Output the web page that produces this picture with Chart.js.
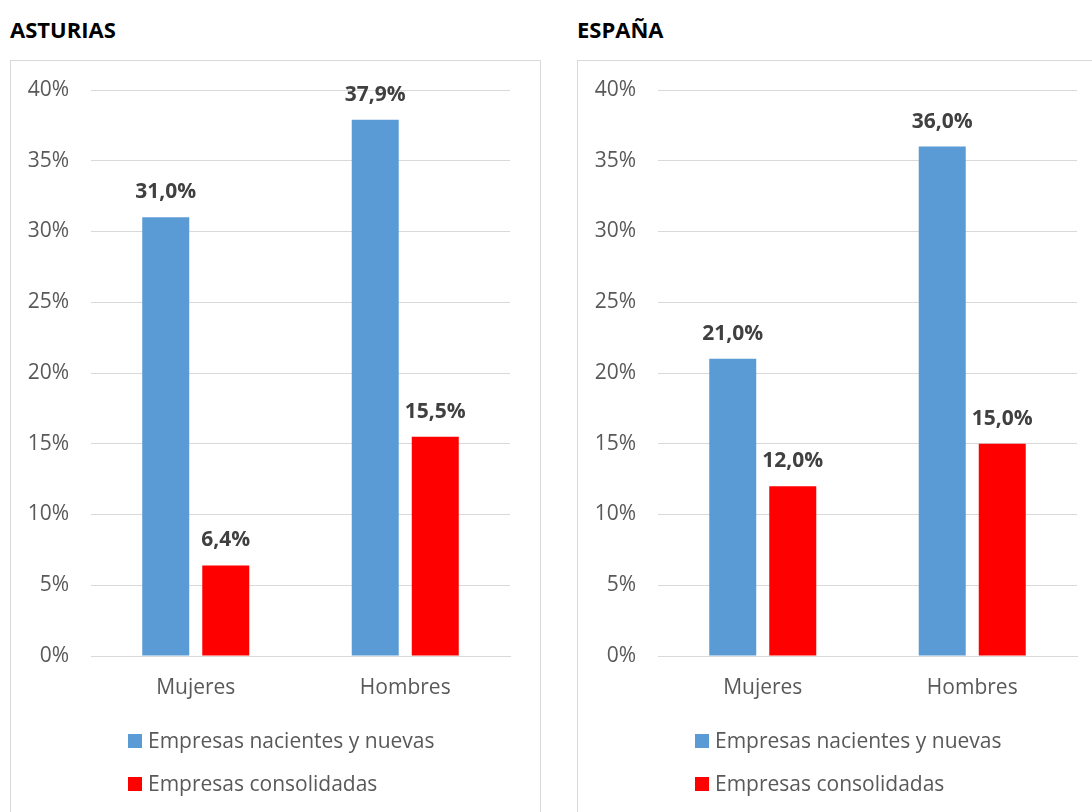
<!DOCTYPE html>
<html>
<head>
<meta charset="utf-8">
<script src="https://cdn.jsdelivr.net/npm/chart.js@4"></script>
<style>
  html, body { margin:0; padding:0; background:#fff; width:1092px; height:812px; overflow:hidden; position:relative; font-family:"Open Sans", sans-serif; }
  .title { position:absolute; top:14px; font-weight:bold; font-size:22px; color:#000; font-family:"Open Sans", sans-serif; }
  .panel { position:absolute; top:60px; width:531px; height:770px; border:1px solid #d9d9d9; box-sizing:border-box; }
  .panel canvas { position:absolute; left:0; top:0; }
</style>
</head>
<body>
<div class="title" style="left:10px">ASTURIAS</div>
<div class="title" style="left:577px">ESPAÑA</div>
<div class="panel" style="left:10px"><canvas id="c1" width="529" height="751"></canvas></div>
<div class="panel" style="left:577px"><canvas id="c2" width="529" height="751"></canvas></div>
<script>
const categories = ['Mujeres', 'Hombres'];
const seriesNames = ['Empresas nacientes y nuevas', 'Empresas consolidadas'];
const asturiasNuevas = [31.0, 37.9];
const asturiasConsolidadas = [6.4, 15.5];
const espanaNuevas = [21.0, 36.0];
const espanaConsolidadas = [12.0, 15.0];
const yMin = 0, yMax = 40, yStep = 5;
const seriesColors = ['#5B9BD5', '#FF0000'];

const FONT = '"Open Sans", sans-serif';

const labelPlugin = {
  id: 'valLabels',
  afterDatasetsDraw(chart) {
    const ctx = chart.ctx;
    ctx.save();
    ctx.font = 'bold 21px ' + FONT;
    ctx.fillStyle = '#404040';
    ctx.textAlign = 'center';
    ctx.textBaseline = 'middle';
    chart.data.datasets.forEach((ds, i) => {
      chart.getDatasetMeta(i).data.forEach((el, j) => {
        const v = ds.data[j];
        ctx.fillText(v.toFixed(1).replace('.', ',') + '%', el.x, el.y - 25);
      });
    });
    ctx.restore();
  }
};

const legendPlugin = {
  id: 'vLegend',
  afterDraw(chart) {
    const ctx = chart.ctx;
    const ca = chart.chartArea;
    ctx.save();
    ctx.font = '21px ' + FONT;
    ctx.textBaseline = 'middle';
    ctx.textAlign = 'left';
    chart.data.datasets.forEach((ds, i) => {
      const cy = ca.bottom + 85 + i * 43;
      const bx = ca.left + 37;
      ctx.fillStyle = ds.backgroundColor;
      ctx.fillRect(bx, cy - 7, 14, 14);
      ctx.fillStyle = '#595959';
      ctx.fillText(ds.label, bx + 20, cy + 1);
    });
    ctx.restore();
  }
};

function makeChart(id, a, b) {
  return new Chart(document.getElementById(id), {
    type: 'bar',
    data: {
      labels: categories,
      datasets: [
        { label: seriesNames[0], data: a, backgroundColor: seriesColors[0] },
        { label: seriesNames[1], data: b, backgroundColor: seriesColors[1] }
      ]
    },
    options: {
      responsive: false,
      animation: false,
      devicePixelRatio: 1,
      categoryPercentage: 0.573,
      barPercentage: 0.783,
      layout: { padding: { top: 29, right: 30, bottom: 96, left: 0 } },
      plugins: { legend: { display: false }, tooltip: { enabled: false } },
      scales: {
        x: {
          grid: { display: false, drawTicks: false },
          border: { display: true, color: '#d9d9d9', width: 1 },
          ticks: { color: '#595959', font: { family: FONT, size: 21 }, padding: 19 },
          afterFit(s) { s.height = 60; s.paddingLeft = 0; s.paddingRight = 0; }
        },
        y: {
          min: yMin, max: yMax,
          grid: { color: '#d9d9d9', lineWidth: 1, drawTicks: false },
          border: { display: false },
          ticks: { stepSize: yStep, color: '#595959', font: { family: FONT, size: 21 }, padding: 22,
                   callback: v => v + '%' },
          afterFit(s) { s.width = 80; s.paddingTop = 0; s.paddingBottom = 0; }
        }
      }
    },
    plugins: [labelPlugin, legendPlugin]
  });
}

makeChart('c1', asturiasNuevas, asturiasConsolidadas);
makeChart('c2', espanaNuevas, espanaConsolidadas);
</script>
</body>
</html>
